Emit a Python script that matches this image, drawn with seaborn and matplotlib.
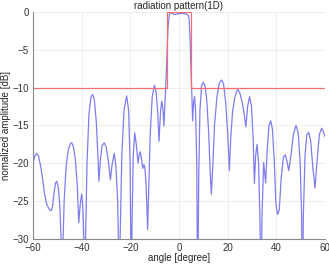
import numpy as np
import pandas as pd
import seaborn as sns
import matplotlib.pyplot as plt

# ------------------ DATA ------------------
angle = [
    -60.0, -59.2, -58.5, -57.7, -56.8, -56.0, -55.2, -54.3, -53.3, -52.6,
    -52.0, -51.3, -50.7, -50.2, -49.6, -49.0, -48.4, -48.1, -47.8, -47.2,
    -46.4, -45.5, -44.6, -44.1, -43.4, -42.6, -41.8, -41.2, -40.6, -40.0,
    -39.5, -39.1, -38.8, -38.4, -37.8, -37.0, -36.2, -35.5, -34.8, -34.0,
    -33.4, -32.9, -32.3, -31.6, -30.7, -29.9, -29.0, -28.2, -27.5, -26.6,
    -25.9, -25.2, -24.8, -24.6, -24.2, -23.5, -22.6, -21.5, -20.7, -20.1,
    -19.8, -19.6, -19.3, -18.8, -18.2, -17.6, -16.8, -16.3, -15.9, -15.4,
    -14.9, -14.4, -14.0, -13.5, -12.9, -12.4, -11.8, -11.0, -10.1, -9.4,
    -8.8, -8.2, -7.6, -7.1, -6.6, -6.2, -5.6, -5.0, -4.5, -4.0,
    -3.6, -2.8, -1.9, -0.8, 0.4, 1.5, 2.5, 3.3, 3.8, 4.2,
    4.6, 5.0, 5.3, 5.6, 6.0, 6.4, 6.8, 7.3, 7.7, 8.1,
    8.6, 9.3, 10.0, 10.7, 11.4, 12.2, 12.8, 13.3, 13.8, 14.6,
    15.6, 16.6, 17.5, 18.3, 19.2, 20.0, 20.7, 21.3, 22.0, 23.0,
    24.1, 25.0, 26.0, 26.8, 27.5, 28.2, 29.0, 29.8, 30.5, 31.0,
    31.5, 32.1, 32.7, 33.3, 33.7, 34.1, 34.8, 35.6, 36.3, 37.0,
    37.7, 38.4, 39.2, 39.8, 40.5, 41.2, 42.0, 42.9, 43.7, 44.4,
    45.1, 46.0, 47.0, 48.1, 49.0, 49.8, 50.4, 50.7, 51.1, 51.8,
    52.5, 53.3, 54.1, 55.0, 55.9, 56.8, 57.7, 58.6, 59.3, 60.0,
]
amplitude_db = [
    -20.0, -19.0, -18.7, -19.1, -20.5, -22.2, -24.2, -25.5, -26.1, -26.3,
    -25.8, -23.8, -22.6, -22.4, -23.2, -25.5, -30.5, -40.0, -32.0, -25.0,
    -20.5, -18.2, -17.4, -17.3, -17.8, -19.5, -23.0, -27.9, -25.5, -24.1,
    -25.8, -30.0, -40.0, -30.0, -20.0, -13.5, -11.3, -10.9, -11.6, -14.5,
    -18.5, -22.4, -19.5, -17.7, -17.3, -17.9, -19.8, -22.2, -20.2, -18.7,
    -20.5, -25.0, -32.0, -40.0, -30.0, -19.0, -13.0, -11.1, -13.0, -20.0,
    -30.0, -40.0, -28.0, -19.0, -16.0, -17.4, -20.0, -18.8, -18.5, -19.4,
    -20.7, -20.2, -20.6, -23.0, -28.8, -23.0, -16.0, -11.2, -9.7, -10.6,
    -13.0, -17.1, -13.2, -11.8, -12.8, -15.1, -11.0, -6.0, -2.0, -0.4,
    -0.1, -0.15, -0.35, -0.25, -0.2, -0.2, -0.22, -0.3, -0.4, -1.0,
    -4.0, -8.5, -11.0, -14.4, -12.0, -11.2, -13.0, -20.0, -40.0, -22.0,
    -13.0, -9.7, -9.3, -9.8, -11.6, -16.0, -21.0, -24.1, -21.0, -15.0,
    -11.2, -9.4, -9.0, -9.5, -12.0, -16.0, -21.0, -16.5, -13.2, -11.2,
    -10.2, -10.7, -12.0, -13.5, -15.2, -12.5, -11.2, -12.5, -17.0, -22.7,
    -19.0, -17.5, -20.0, -28.0, -40.0, -27.0, -19.9, -22.6, -18.0, -15.0,
    -14.4, -15.5, -20.0, -25.2, -26.8, -26.2, -22.0, -19.2, -18.9, -19.8,
    -21.0, -19.0, -16.2, -15.0, -16.0, -20.0, -27.0, -40.0, -27.0, -19.0,
    -16.3, -15.9, -17.0, -20.5, -23.3, -19.5, -16.2, -15.4, -15.8, -16.5,
]

mask_angle = [-60, -5, -5, 5, 5, 60]
mask_db = [-10, -10, 0, 0, -10, -10]

pattern_df = pd.DataFrame({'angle': angle, 'dB': amplitude_db})
mask_df = pd.DataFrame({'angle': mask_angle, 'dB': mask_db})

# ------------------ PLOT ------------------
sns.set_theme(style='whitegrid')
plt.rcParams['font.family'] = ['Liberation Sans', 'DejaVu Sans']

fig = plt.figure(figsize=(3.29, 2.64), dpi=100)
ax = fig.add_axes([0.1003, 0.0958, 0.8875, 0.8587])

sns.lineplot(data=pattern_df, x='angle', y='dB', ax=ax, sort=False,
             estimator=None, color='#7070f0', linewidth=0.9, alpha=0.9)
sns.lineplot(data=mask_df, x='angle', y='dB', ax=ax, sort=False,
             estimator=None, color='#f07070', linewidth=0.9)

ax.set_xlim(-60, 60)
ax.set_ylim(-30, 0)
ax.set_xticks(range(-60, 61, 20))
ax.set_yticks(range(-30, 1, 5))

ax.set_title('radiation pattern(1D)', fontsize=7, pad=2)
ax.set_xlabel('angle [degree]', fontsize=7, labelpad=0)
ax.set_ylabel('nomalized amplitude [dB]', fontsize=7, labelpad=1)

ax.tick_params(labelsize=7, length=2, direction='in', colors='#333333')
ax.tick_params(axis='x', pad=3)
ax.tick_params(axis='y', pad=3)
ax.grid(True, color='#ebebeb', linewidth=0.6)
for side in ['top', 'right']:
    ax.spines[side].set_visible(False)
for side in ['left', 'bottom']:
    ax.spines[side].set_color('#8a8a8a')
    ax.spines[side].set_linewidth(0.8)

fig.savefig('out.png', dpi=100)
